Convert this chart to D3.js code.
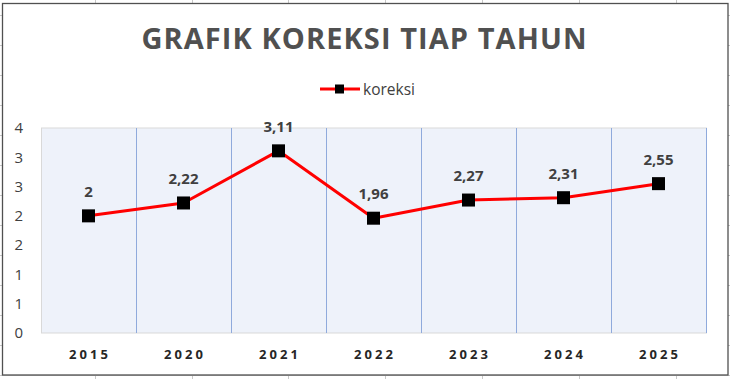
<!DOCTYPE html>
<html>
<head>
<meta charset="utf-8">
<script src="https://cdn.jsdelivr.net/npm/d3@7"></script>
<style>
  body { margin: 0; background: #fff; }
  svg { display: block; font-family: "Open Sans", sans-serif; }
</style>
</head>
<body>
<div id="canvas"></div>
<script>
// data
const years = ['2015', '2020', '2021', '2022', '2023', '2024', '2025']
const koreksi = [2, 2.22, 3.11, 1.96, 2.27, 2.31, 2.55]
const yTicks = [0, 0.5, 1, 1.5, 2, 2.5, 3, 3.5]
const seriesName = 'koreksi'
const title = 'GRAFIK KOREKSI TIAP TAHUN'

const width = 730
const height = 379
const margin = {top: 128, left: 41, right: 24, bottom: 46}

const svg = d3.select('#canvas')
  .append('svg')
  .attr('width', width)
  .attr('height', height)

// spreadsheet grid peeking out around the chart
const bg = svg.append('g').attr('stroke', '#c8c8c8').attr('stroke-width', 1)
d3.range(-2, width, 96.8).forEach(x => {
  bg.append('line').attr('x1', Math.round(x) + 0.5).attr('x2', Math.round(x) + 0.5)
    .attr('y1', 0).attr('y2', height)
})
d3.range(15, height, 30).forEach(y => {
  bg.append('line').attr('y1', y + 0.5).attr('y2', y + 0.5)
    .attr('x1', 0).attr('x2', width)
})

// chart box
svg.append('rect')
  .attr('x', 2.5).attr('y', 3.5)
  .attr('width', 725.5).attr('height', 371.5)
  .attr('fill', '#fff')
  .attr('stroke', '#505050')
  .attr('stroke-width', 1.3)

const x = d3.scaleBand()
  .domain(years)
  .range([margin.left, width - margin.right])

const y = d3.scaleLinear()
  .domain([0, 3.5])
  .range([height - margin.bottom, margin.top])

// plot area
svg.append('rect')
  .attr('x', x.range()[0] + 0.5)
  .attr('y', y(3.5))
  .attr('width', x.range()[1] - x.range()[0])
  .attr('height', y(0) - y(3.5))
  .attr('fill', '#eef2fa')
  .attr('stroke', '#d9d9d9')
  .attr('stroke-width', 1)

// category separators
svg.append('g')
  .selectAll('line')
  .data(years)
  .enter()
  .append('line')
  .attr('x1', d => Math.round(x(d) + x.bandwidth()) + 0.5)
  .attr('x2', d => Math.round(x(d) + x.bandwidth()) + 0.5)
  .attr('y1', y(3.5))
  .attr('y2', y(0))
  .attr('stroke', '#8faadc')
  .attr('stroke-width', 1)

// y axis, excel rounds 0.5 steps to whole numbers
const yAxisCall = d3.axisLeft(y)
  .tickValues(yTicks)
  .tickSize(0)
  .tickPadding(18)
  .tickFormat(d => Math.floor(d + 0.5))
const yAxis = svg.append('g')
  .attr('transform', `translate(${margin.left},0)`)
  .call(yAxisCall)
yAxis.select('.domain').remove()
yAxis.selectAll('text')
  .attr('font-family', '"Open Sans", sans-serif')
  .attr('font-size', 15)
  .attr('fill', '#404040')

// x axis
const xAxisCall = d3.axisBottom(x).tickSize(0).tickPadding(0)
const xAxis = svg.append('g')
  .attr('transform', `translate(0,${y(0)})`)
  .call(xAxisCall)
xAxis.select('.domain').remove()
xAxis.selectAll('text')
  .attr('y', 26)
  .attr('dy', 0)
  .attr('font-family', '"Open Sans", sans-serif')
  .attr('font-weight', 'bold')
  .attr('font-size', 13)
  .attr('fill', '#262626')
  .attr('textLength', 39)
  .attr('lengthAdjust', 'spacing')

const cx = d => x(d) + x.bandwidth() / 2
const pts = years.map((d, i) => ({year: d, value: koreksi[i]}))

// line
const line = d3.line()
  .x(d => cx(d.year))
  .y(d => y(d.value))
svg.append('path')
  .datum(pts)
  .attr('d', line)
  .attr('fill', 'none')
  .attr('stroke', '#ff0000')
  .attr('stroke-width', 3)
  .attr('stroke-linejoin', 'round')

// markers
svg.append('g')
  .selectAll('rect')
  .data(pts)
  .enter()
  .append('rect')
  .attr('x', d => cx(d.year) - 6.5)
  .attr('y', d => y(d.value) - 6.5)
  .attr('width', 13)
  .attr('height', 13)
  .attr('fill', '#000')

// data labels
svg.append('g')
  .selectAll('text')
  .data(pts)
  .enter()
  .append('text')
  .text(d => String(d.value).replace('.', ','))
  .attr('x', d => cx(d.year))
  .attr('y', d => y(d.value) - 19)
  .attr('text-anchor', 'middle')
  .attr('font-size', 15)
  .attr('font-weight', 'bold')
  .attr('fill', '#404040')

// title
svg.append('text')
  .text(title)
  .attr('x', 364)
  .attr('y', 48.5)
  .attr('text-anchor', 'middle')
  .attr('font-size', 29)
  .attr('font-weight', 'bold')
  .attr('fill', '#505050')
  .attr('textLength', 445)
  .attr('lengthAdjust', 'spacing')

// legend
const leg = svg.append('g').attr('transform', 'translate(320,89)')
leg.append('line')
  .attr('x1', 0).attr('x2', 40)
  .attr('stroke', '#ff0000')
  .attr('stroke-width', 3)
leg.append('rect')
  .attr('x', 15).attr('y', -4.5)
  .attr('width', 9).attr('height', 9)
  .attr('fill', '#000')
leg.append('text')
  .text(seriesName)
  .attr('x', 43)
  .attr('y', 5.5)
  .attr('font-size', 15.5)
  .attr('fill', '#404040')
</script>
</body>
</html>
